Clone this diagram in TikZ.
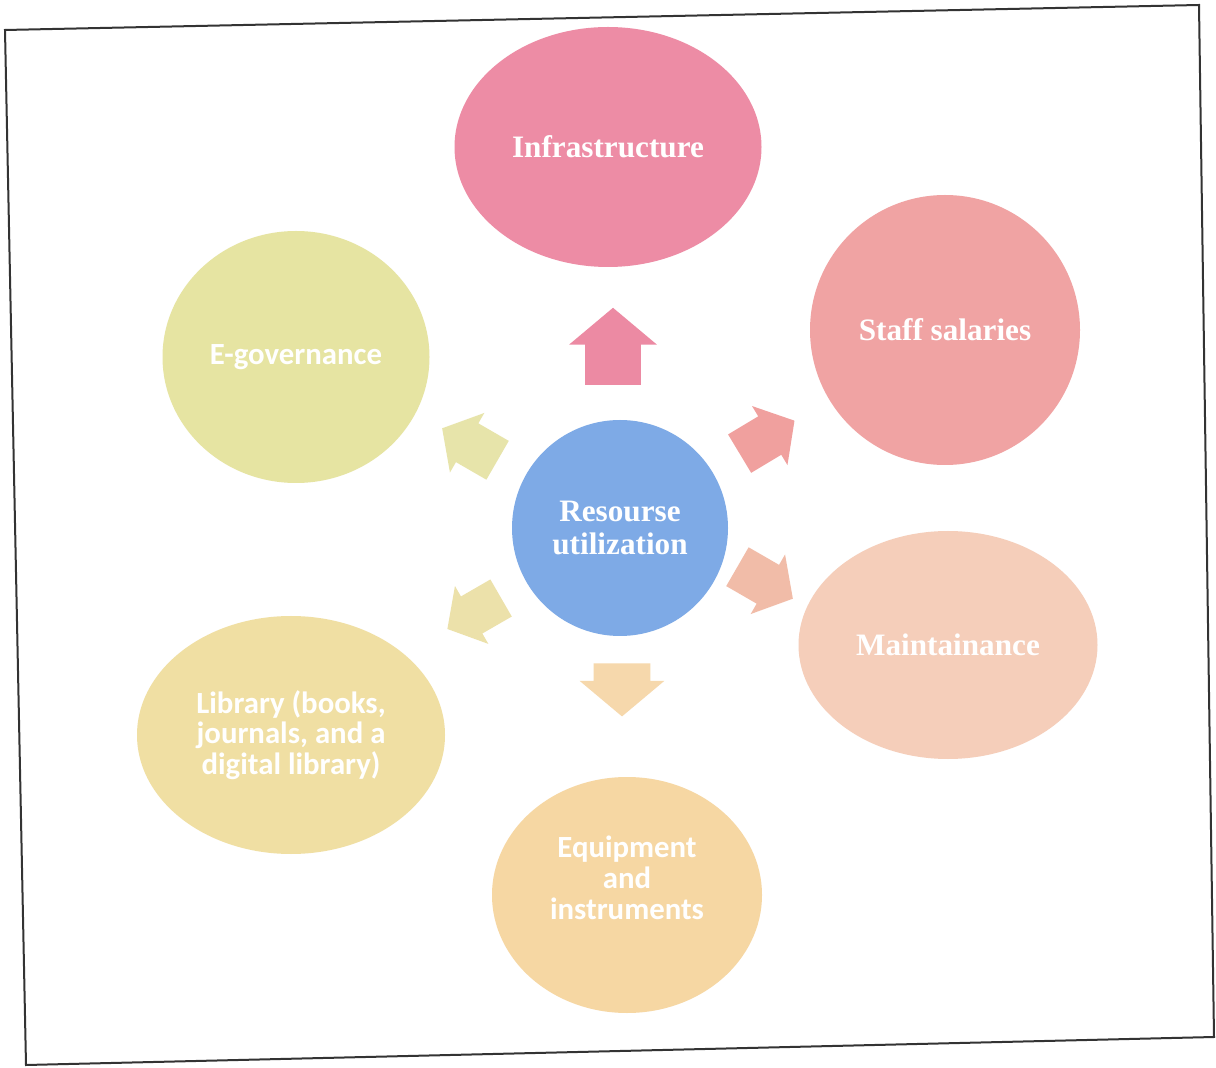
\documentclass[tikz,border=0pt]{standalone}
\usepackage{fontspec}
\setmainfont{Liberation Serif}
\newfontfamily\calibri{Carlito}
\usetikzlibrary{shapes.geometric,shapes.arrows}

\definecolor{infracol}{RGB}{237,140,165}
\definecolor{staffcol}{RGB}{240,163,163}
\definecolor{maintcol}{RGB}{245,206,186}
\definecolor{equipcol}{RGB}{246,215,163}
\definecolor{libcol}{RGB}{240,223,163}
\definecolor{egovcol}{RGB}{230,228,162}
\definecolor{hubcol}{RGB}{126,170,230}
\definecolor{arrA}{RGB}{236,138,163}
\definecolor{arrB}{RGB}{240,160,158}
\definecolor{arrC}{RGB}{241,188,168}
\definecolor{arrD}{RGB}{246,216,172}
\definecolor{arrE}{RGB}{236,225,170}
\definecolor{arrF}{RGB}{231,228,170}

\begin{document}
\begin{tikzpicture}[x=0.5pt, y=0.5pt,
  bubble/.style={ellipse, fill=#1, inner sep=0pt, text=white, align=center},
  serifbold/.style={font=\fontsize{15.6}{16.5}\selectfont\bfseries},
  sansbold/.style={font=\calibri\fontsize{15.4}{15.4}\selectfont\bfseries},
  blockarrow/.style={single arrow, fill=#1, inner xsep=0pt, single arrow tip angle=100}]

 \useasboundingbox (0,0) rectangle (1216,1067);
 \fill[white] (0,0) rectangle (1216,1067);

 % frame
 \draw[line width=1pt, black!80] (5,1037) -- (1199,1062) -- (1214,30) -- (26,2) -- cycle;

 % outer circles
 \node[bubble=infracol, minimum width=153.5pt, minimum height=120pt, serifbold] (infra) at (608,920) {Infrastructure};
 \node[bubble=staffcol, minimum width=135pt, minimum height=135pt, serifbold] (staff) at (945,737) {Staff salaries};
 \node[bubble=maintcol, minimum width=149.5pt, minimum height=114pt, serifbold] (maint) at (948,422) {Maintainance};
 \node[bubble=equipcol, minimum width=135pt, minimum height=118pt] (equip) at (627,172) {};
 \node[text=white, align=center, sansbold] (equiptext) at ([yshift=8.5pt]equip.center) {Equipment\\and\\instruments};
 \node[bubble=libcol, minimum width=154pt, minimum height=119pt, sansbold] (lib) at (291,332) {Library (books,\\journals, and a\\digital library)};
 \node[bubble=egovcol, minimum width=133.5pt, minimum height=126pt, sansbold] (egov) at (296,710) {E-governance};

 % centre
 \node[bubble=hubcol, minimum width=108pt, minimum height=108pt, serifbold] (hub) at (620,539) {Resourse\\utilization};

 % arrows
 \foreach \ang/\px/\py/\col/\len/\sw/\ext/\n in {
     90/613/709/arrA/38.5/13.75/8/arinfra,
     31/759/625/arrB/32/11/6/arstaff,
     -30/757/489/arrC/32/11/6/armaint,
     -90/622/389/arrD/26.5/14/7/arequip,
     210/482/458/arrE/31/10.5/6/arlib,
     150/478/618/arrF/32/11/6/aregov} {
   \node[blockarrow=\col, rotate=\ang, minimum height=\len pt, inner ysep=\sw pt,
         single arrow head extend=\ext pt] (\n) at (\px,\py) {};
 }

\end{tikzpicture}
\end{document}
